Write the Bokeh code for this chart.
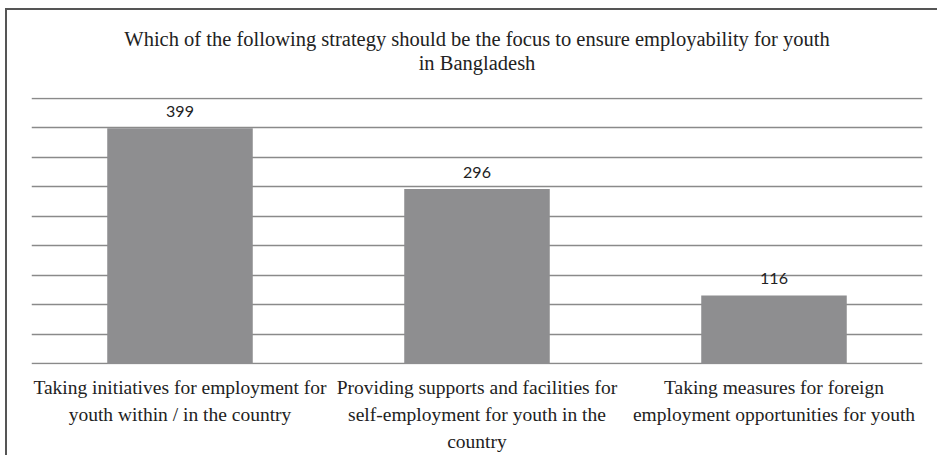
from bokeh.plotting import figure
from bokeh.models import FactorRange, Range1d, SingleIntervalTicker, ColumnDataSource, LabelSet, Title
from bokeh.core.properties import value
from bokeh.embed import file_html
from bokeh.resources import INLINE

categories = [
    "Taking initiatives for employment for\nyouth within / in the country",
    "Providing supports and facilities for\nself-employment for youth in the\ncountry",
    "Taking measures for foreign\nemployment opportunities for youth",
]
values = [399, 296, 116]
labels = [str(v) for v in values]
title_lines = [
    "Which of the following strategy should be the focus to ensure employability for youth",
    "in Bangladesh",
]

src = ColumnDataSource(dict(cat=categories, val=values, lab=labels))

p = figure(
    x_range=FactorRange(*categories, range_padding=0),
    y_range=Range1d(-1, 451),
    frame_width=891, frame_height=267,
    title=None,
    output_backend="svg", toolbar_location=None,
    min_border_left=24, min_border_right=25, min_border_top=87, min_border_bottom=8,
)
p.margin = (8, 0, 0, 5)
p.styles = {"border-top": "2px solid #555", "border-left": "2px solid #555",
            "border-right": "none", "border-bottom": "none", "outline": "none", "box-shadow": "none"}

title_style = dict(align="center", text_font="Liberation Serif", text_font_size="20.5px",
                   text_font_style="normal", text_color="#222222", standoff=0, offset=-8)
# spacer between the title and the plot area
p.add_layout(Title(text=" ", **title_style), "above")
for line in reversed(title_lines):
    p.add_layout(Title(text=line, **title_style), "above")

p.vbar(x="cat", top="val", width=0.49, source=src, fill_color="#8e8e90", line_color=None)

lbl = LabelSet(x="cat", y="val", text="lab", source=src, text_align="center", text_baseline="bottom",
               y_offset=11, text_font=value("Lato"), text_font_size="16px", text_color="#222222")
p.add_layout(lbl)

p.yaxis.visible = False
p.yaxis.ticker = SingleIntervalTicker(interval=50)
p.ygrid.grid_line_color = "#8a8a8a"
p.ygrid.grid_line_width = 1.5
p.xgrid.visible = False

p.xaxis.axis_line_color = None
p.xaxis.major_tick_line_color = None
p.xaxis.minor_tick_line_color = None
p.xaxis.major_label_text_font = "Liberation Serif"
p.xaxis.major_label_text_font_size = "19.5px"
p.xaxis.major_label_text_color = "#222222"
p.xaxis.major_label_text_line_height = 1.3
p.xaxis.major_label_standoff = 6

p.outline_line_color = None
p.background_fill_color = "white"
p.border_fill_color = "white"

open("out.html", "w").write(file_html(p, INLINE))
